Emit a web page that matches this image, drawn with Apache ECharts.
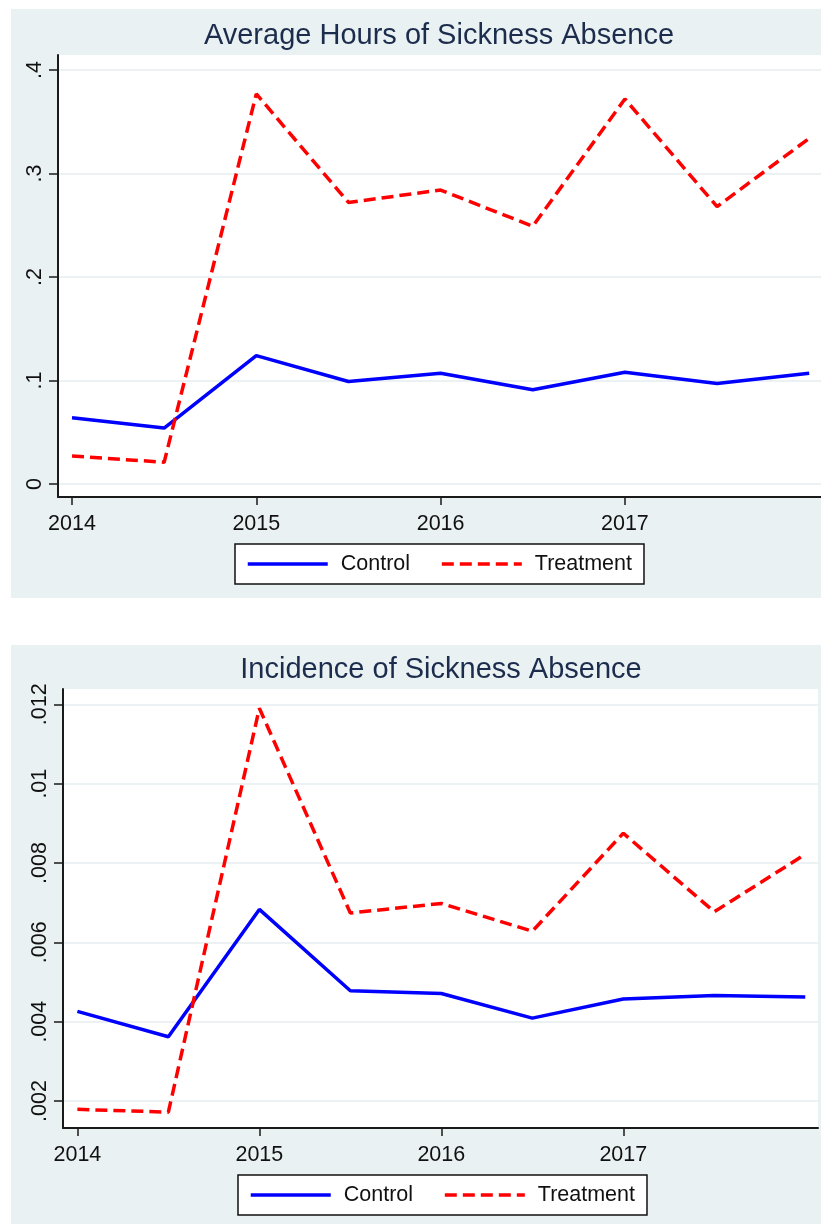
<!DOCTYPE html>
<html>
<head>
<meta charset="utf-8">
<script src="https://cdn.jsdelivr.net/npm/echarts@6/dist/echarts.min.js"></script>
<style>
  body { margin: 0; background: #fff; width: 821px; height: 1226px; position: relative; overflow: hidden; }
  .panel { position: absolute; background: #eaf1f3; }
  #hours-chart { left: 11px; top: 9px; width: 810px; height: 589px; }
  #incidence-chart { left: 11px; top: 645px; width: 810px; height: 579px; }
</style>
</head>
<body>
<div id="hours-chart" class="panel"></div>
<div id="incidence-chart" class="panel"></div>
<script>
// half-year periods
var periods = [2014, 2014.5, 2015, 2015.5, 2016, 2016.5, 2017, 2017.5, 2018];
var yearTicks = [2014, 2015, 2016, 2017];

// average hours of sickness absence
var hoursControl   = [0.064, 0.054, 0.124, 0.099, 0.107, 0.091, 0.108, 0.097, 0.107];
var hoursTreatment = [0.027, 0.021, 0.377, 0.272, 0.284, 0.249, 0.372, 0.268, 0.334];
var hoursTicks = [0, 0.1, 0.2, 0.3, 0.4];

// incidence of sickness absence
var incControl   = [0.00426, 0.00362, 0.00683, 0.00478, 0.00471, 0.00409, 0.00457, 0.00466, 0.00462];
var incTreatment = [0.00179, 0.00172, 0.0119, 0.00674, 0.00698, 0.00628, 0.00875, 0.00677, 0.00822];
var incTicks = [0.002, 0.004, 0.006, 0.008, 0.01, 0.012];

var FONT = '"Liberation Sans", Arial, sans-serif';

function stataNum(v) {
    var s = String(+v.toFixed(4));
    return s.replace(/^0\./, '.');
}

function pairs(xs, ys) {
    return xs.map(function (x, i) { return [x, ys[i]]; });
}

function makeOption(cfg) {
    return {
        animation: false,
        title: {
            text: cfg.title,
            left: cfg.titleX,
            top: cfg.titleTop,
            textAlign: 'center',
            padding: 0,
            textStyle: { fontFamily: FONT, fontSize: 29, fontWeight: 'normal', color: '#1c2c4c' }
        },
        legend: {
            left: cfg.legendLeft,
            top: cfg.legendTop,
            orient: 'horizontal',
            backgroundColor: '#fff',
            borderColor: '#111',
            borderWidth: 1.5,
            borderRadius: 0,
            padding: [9, 12, 9, 11],
            itemWidth: 80,
            itemHeight: 14,
            itemGap: 30,
            // hide the marker dot, keep only the line sample
            itemStyle: { color: 'rgba(0,0,0,0)', borderWidth: 0, opacity: 0 },
            lineStyle: { width: 3.5 },
            textStyle: { fontFamily: FONT, fontSize: 21.5, color: '#111', padding: [0, 0, 0, 8] },
            data: ['Control', 'Treatment']
        },
        grid: {
            left: cfg.grid.left, top: cfg.grid.top, right: cfg.grid.right, height: cfg.grid.height,
            show: true, backgroundColor: '#fff', borderWidth: 0
        },
        xAxis: {
            type: 'value',
            min: cfg.xMin, max: cfg.xMax,
            axisLine: { show: true, onZero: false, lineStyle: { color: '#1a1a1a', width: 2 } },
            axisTick: { show: true, length: 8, customValues: yearTicks, lineStyle: { color: '#1a1a1a', width: 1.5 } },
            axisLabel: { customValues: yearTicks, margin: 16, fontFamily: FONT, fontSize: 21.5, color: '#111',
                formatter: function (v) { return String(v); } },
            splitLine: { show: false }
        },
        yAxis: {
            type: 'value',
            min: cfg.yMin, max: cfg.yMax,
            axisLine: { show: true, onZero: false, lineStyle: { color: '#1a1a1a', width: 2 } },
            axisTick: { show: true, length: 9, customValues: cfg.yTicks, lineStyle: { color: '#1a1a1a', width: 1.5 } },
            axisLabel: { customValues: cfg.yTicks, rotate: 90, margin: 12, fontFamily: FONT, fontSize: 21.5, color: '#111',
                formatter: stataNum },
            splitLine: { show: true, lineStyle: { color: '#e6eef0', width: 1.5 } }
        },
        series: [
            {
                name: 'Control', type: 'line', symbol: 'none',
                lineStyle: { color: '#0000ff', width: 3.5 },
                itemStyle: { color: '#0000ff' },
                data: pairs(periods, cfg.control)
            },
            {
                name: 'Treatment', type: 'line', symbol: 'none',
                lineStyle: { color: '#ff0000', width: 3.5, type: [12, 6] },
                itemStyle: { color: '#ff0000' },
                data: pairs(periods, cfg.treatment)
            }
        ]
    };
}

var hoursChart = echarts.init(document.getElementById('hours-chart'));
hoursChart.setOption(makeOption({
    title: 'Average Hours of Sickness Absence',
    titleX: 428, titleTop: 12,
    legendLeft: 224, legendTop: 535,
    grid: { left: 47, top: 46, right: 0, height: 442 },
    xMin: 2013.924, xMax: 2018.064,
    yMin: -0.0126, yMax: 0.4145,
    yTicks: hoursTicks,
    control: hoursControl,
    treatment: hoursTreatment
}));

var incidenceChart = echarts.init(document.getElementById('incidence-chart'));
incidenceChart.setOption(makeOption({
    title: 'Incidence of Sickness Absence',
    titleX: 430, titleTop: 10,
    legendLeft: 227, legendTop: 530,
    grid: { left: 52, top: 44, right: 3, height: 439 },
    xMin: 2013.921, xMax: 2018.07,
    yMin: 0.00132, yMax: 0.012386,
    yTicks: incTicks,
    control: incControl,
    treatment: incTreatment
}));
</script>
</body>
</html>
